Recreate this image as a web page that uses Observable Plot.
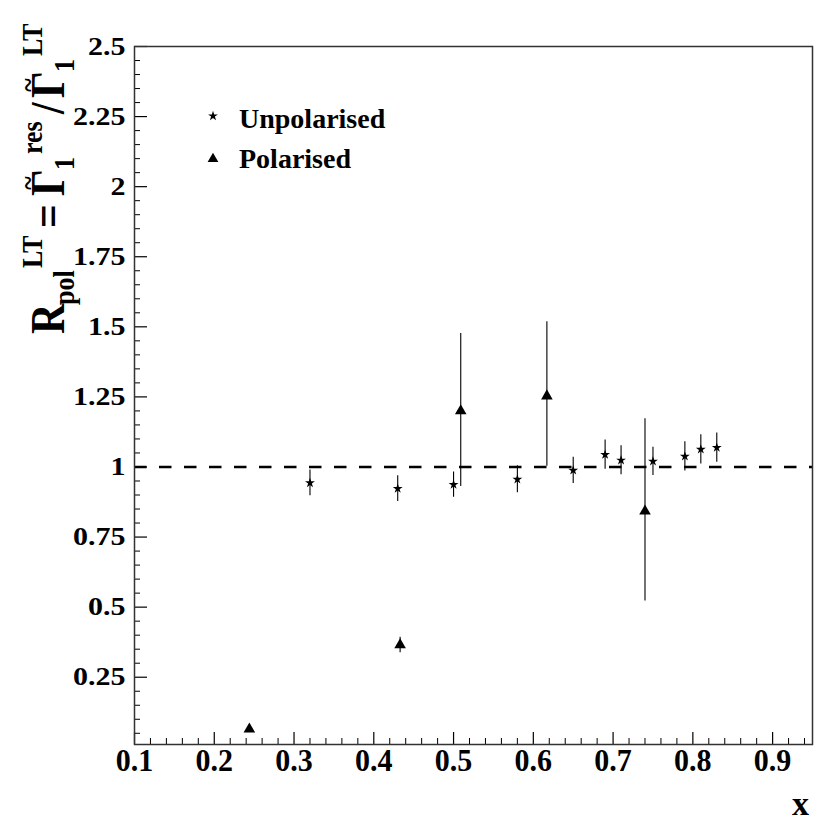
<!DOCTYPE html>
<html><head><meta charset="utf-8">
<script src="https://cdn.jsdelivr.net/npm/d3@7"></script>
<script src="https://cdn.jsdelivr.net/npm/@observablehq/plot@0.6"></script>
<style>body{margin:0;background:#fff} #chart svg{display:block}</style>
</head><body><div id="chart"></div>
<script>
// Unpolarised (stars)
const unpolX   = [0.32, 0.43, 0.50, 0.58, 0.65, 0.69, 0.71, 0.75, 0.79, 0.81, 0.83];
const unpolY   = [0.943, 0.923, 0.937, 0.956, 0.988, 1.044, 1.024, 1.020, 1.038, 1.063, 1.069];
const unpolErr = [0.046, 0.046, 0.045, 0.048, 0.047, 0.052, 0.052, 0.050, 0.052, 0.052, 0.052];
// Polarised (triangles)
const polX     = [0.244, 0.433, 0.509, 0.617, 0.740];
const polY     = [0.065, 0.365, 1.200, 1.253, 0.842];
const polErrLo = [0.010, 0.028, 0.270, 0.250, 0.320];
const polErrHi = [0.010, 0.028, 0.276, 0.265, 0.330];
// Axis ticks
const xTickValues = [0.1, 0.2, 0.3, 0.4, 0.5, 0.6, 0.7, 0.8, 0.9];
const xTickLabels = ["0.1", "0.2", "0.3", "0.4", "0.5", "0.6", "0.7", "0.8", "0.9"];
const yTickValues = [0.25, 0.5, 0.75, 1, 1.25, 1.5, 1.75, 2, 2.25, 2.5];
const yTickLabels = ["0.25", "0.5", "0.75", "1", "1.25", "1.5", "1.75", "2", "2.25", "2.5"];
const legendLabels = ["Unpolarised", "Polarised"];

const W = 814, H = 822, mL = 134, mR = 2, mT = 46, mB = 78;
const frameW = W - mL - mR, frameH = H - mT - mB;
const font = "'Liberation Serif','Times New Roman',serif";

const unpol = unpolX.map((x, i) => ({x, y: unpolY[i], err: unpolErr[i]}));
const pol = polX.map((x, i) => ({x, y: polY[i], lo: polErrLo[i], hi: polErrHi[i]}));
const yMinor = d3.range(1, 50).map(i => +(i * 0.05).toFixed(2)).filter(v => Math.abs(v / 0.25 - Math.round(v / 0.25)) > 1e-6);
const xMinor = d3.range(6, 48).map(i => +(i * 0.02).toFixed(2)).filter(v => Math.abs(v / 0.1 - Math.round(v / 0.1)) > 1e-6);

const svg = Plot.plot({
  width: W, height: H,
  marginLeft: mL, marginRight: mR, marginTop: mT, marginBottom: mB,
  style: {fontFamily: font, fontWeight: "bold", background: "white", color: "black", overflow: "visible"},
  x: {domain: [0.1, 0.95]},
  y: {domain: [0.01, 2.5]},
  marks: [
    Plot.ruleY([1], {y: d => d, stroke: "black", strokeWidth: 2.5, strokeDasharray: "12.5,12.5"}),
    Plot.ruleX(pol, {x: "x", y1: d => d.y - d.lo, y2: d => d.y + d.hi, stroke: "black", strokeWidth: 1.1}),
    Plot.ruleX(unpol, {x: "x", y1: d => d.y - d.err, y2: d => d.y + d.err, stroke: "black", strokeWidth: 1.1}),
    Plot.dot(unpol, {x: "x", y: "y", symbol: "star", r: 3.1, fill: "black", stroke: "none"}),
    Plot.dot(pol, {x: "x", y: "y", symbol: "triangle", r: 4.3, fill: "black", stroke: "none"}),
    Plot.tickY(yMinor, {y: d => d, insetRight: frameW - 6, stroke: "black", strokeWidth: 1}),
    Plot.tickY(yTickValues, {y: d => d, insetRight: frameW - 13, stroke: "black", strokeWidth: 1.2}),
    Plot.tickX(xMinor, {x: d => d, insetTop: frameH - 6, stroke: "black", strokeWidth: 1}),
    Plot.tickX(xTickValues, {x: d => d, insetTop: frameH - 12, stroke: "black", strokeWidth: 1.2}),
    Plot.axisY({ticks: yTickValues, tickSize: 0, tickPadding: 9, fontSize: 30, fontWeight: "bold",
      tickFormat: d => yTickLabels[yTickValues.indexOf(d)], label: null}),
    Plot.axisX({ticks: xTickValues, tickSize: 0, tickPadding: 4, fontSize: 30, fontWeight: "bold",
      tickFormat: d => xTickLabels[xTickValues.indexOf(d)], label: null}),
    Plot.frame({stroke: "#333", strokeWidth: 1.5})
  ]
});

const s = d3.select(svg);
// Scale tick label glyphs (ROOT-like proportions)
function restyle(sel, size, sx, sy) {
  sel.each(function() {
    const t = d3.select(this);
    t.style("font-size", size + "px");
    let tr = t.attr("transform");
    if (!tr) {
      const x = +t.attr("x") || 0, y = +t.attr("y") || 0;
      t.attr("x", null).attr("y", null);
      tr = `translate(${x},${y})`;
    }
    t.attr("transform", `${tr} scale(${sx},${sy})`);
  });
}
restyle(s.selectAll("g[aria-label='y-axis tick label'] text"), 30, 1, 0.86);
restyle(s.selectAll("g[aria-label='x-axis tick label'] text"), 30, 1, 1.05);

// Legend
const leg = s.append("g").attr("font-family", font).attr("font-weight", "bold")
  .attr("font-size", 28).attr("text-anchor", "start").attr("fill", "black");
leg.append("path").attr("transform", "translate(213,116)").attr("d", d3.symbol(d3.symbolStar, 30)()).attr("fill", "black");
leg.append("path").attr("transform", "translate(213,159)").attr("d", d3.symbol(d3.symbolTriangle, 50)()).attr("fill", "black");
leg.append("text").attr("x", 239).attr("y", 128).text(legendLabels[0]);
leg.append("text").attr("x", 239).attr("y", 168).text(legendLabels[1]);

// x axis title
s.append("text").attr("x", 809).attr("y", 815).attr("text-anchor", "end")
  .attr("font-family", font).attr("font-weight", "bold").attr("font-size", 34).text("x");

// y axis title (rotated)
const yt = s.append("g").attr("transform", "translate(64,334) rotate(-90) scale(1,1.15)")
  .attr("font-family", font).attr("font-weight", "bold").attr("fill", "black").attr("text-anchor", "start");
const pieces = [
  {t: "R", u: 0, v: 0, f: 42},
  {t: "pol", u: 29, v: 9, f: 26},
  {t: "LT", u: 66, v: -19, f: 26},
  {t: "=", u: 106, v: 0, f: 42},
  {t: "\u0393", u: 138, v: 0, f: 42, tilde: true},
  {t: "1", u: 164, v: 9, f: 26},
  {t: "res", u: 180, v: -19, f: 26},
  {t: "/", u: 220, v: 0, f: 42},
  {t: "\u0393", u: 236, v: 0, f: 42, tilde: true},
  {t: "1", u: 262, v: 9, f: 26},
  {t: "LT", u: 278, v: -19, f: 26}
];
for (const p of pieces) {
  yt.append("text").attr("x", p.u).attr("y", p.v).attr("font-size", p.f).text(p.t);
  if (p.tilde) {
    yt.append("text").attr("x", p.u + 13).attr("y", p.v - 23).attr("font-size", 26)
      .attr("text-anchor", "middle").text("~");
  }
}

document.getElementById("chart").appendChild(svg);
</script>
</body></html>
